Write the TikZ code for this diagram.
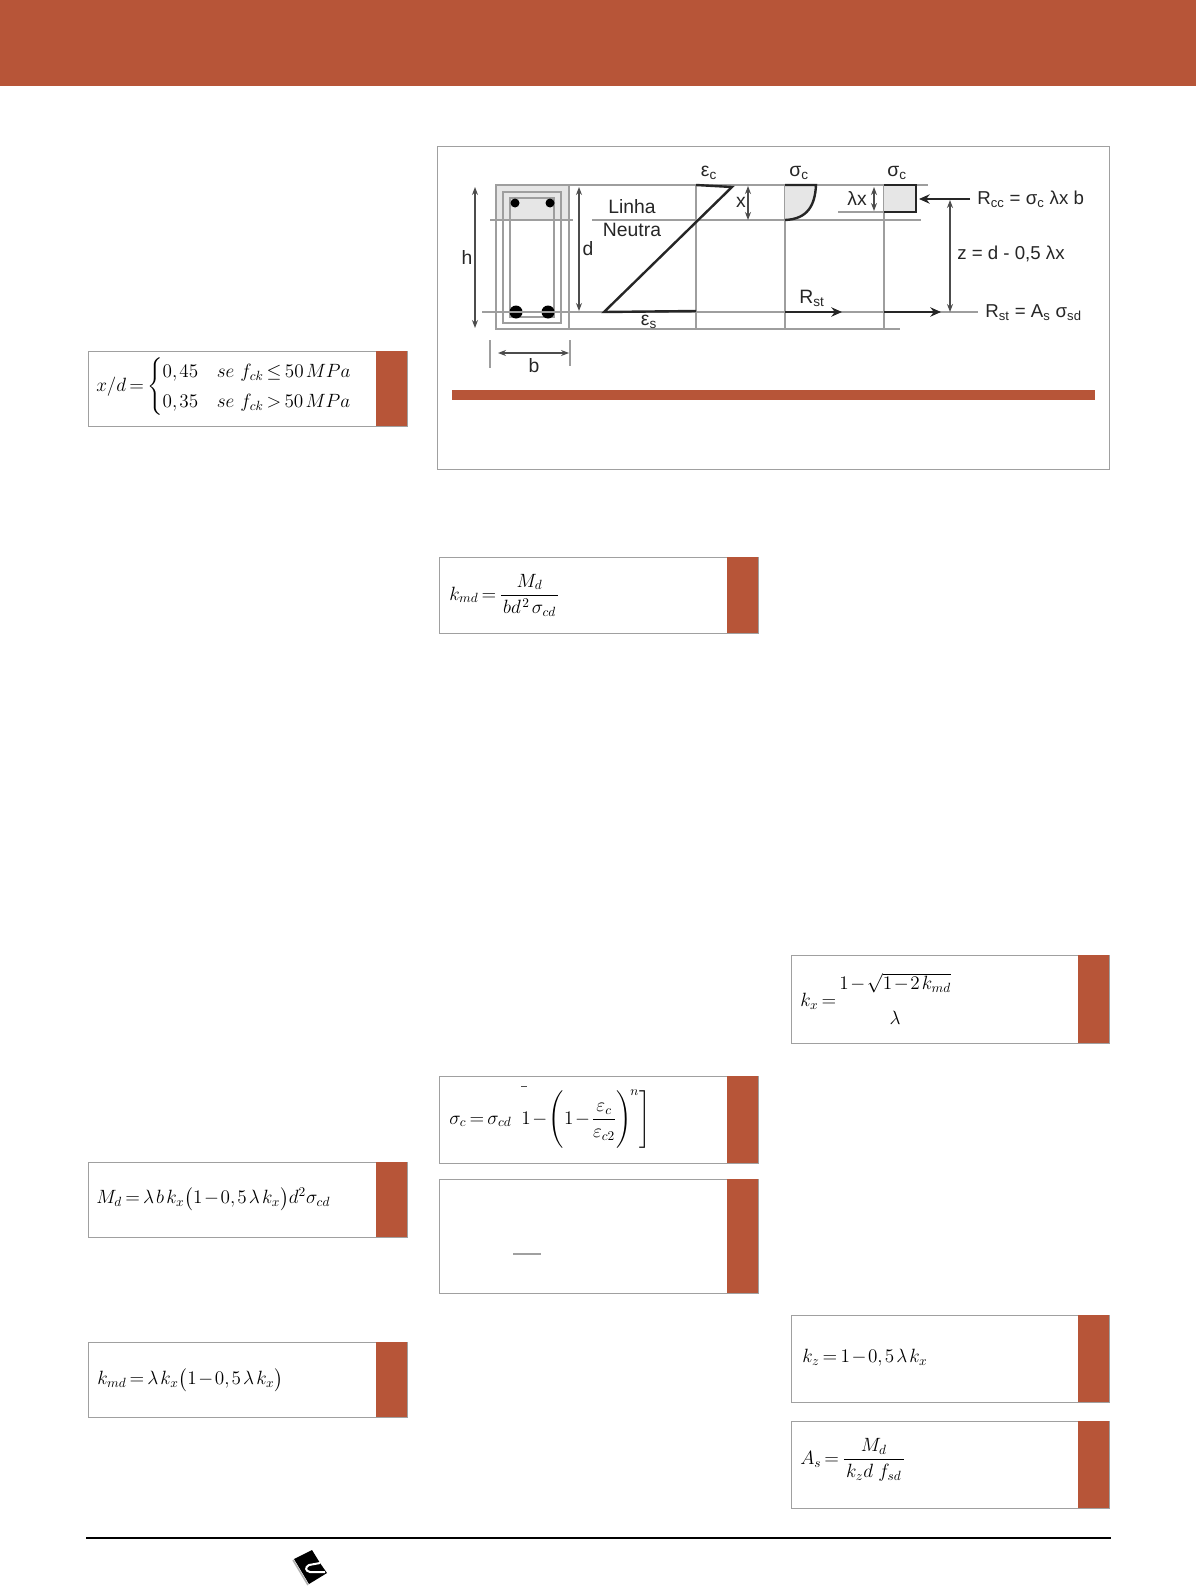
\documentclass[tikz,border=0pt]{standalone}
\usepackage{amsmath}
\usepackage[no-math]{fontspec}
\usetikzlibrary{arrows.meta}
\newfontfamily\diagfont{Liberation Sans}
\definecolor{tabred}{HTML}{B75538}
\definecolor{boxgray}{HTML}{A0A0A0}
\definecolor{fillgray}{HTML}{E6E6E6}
\newcommand{\tightmath}{\medmuskip=1.5mu\relax\thickmuskip=3mu\relax\thinmuskip=2mu\relax}
\tikzset{
    eqtext/.style={anchor=west,inner sep=0pt,font=\fontsize{14}{17}\selectfont\tightmath},
    lbl/.style={inner sep=0pt,font=\diagfont\fontsize{14.5}{17}\selectfont,text=black!85},
    lblr/.style={lbl,anchor=west,font=\diagfont\fontsize{14}{17}\selectfont},
    thin line/.style={draw=black!38,line width=0.9pt},
    heavy line/.style={draw=black!85,line width=1.8pt},
    dim line/.style={draw=black!70,line width=0.8pt,{Stealth[length=6pt,width=4.5pt]}-{Stealth[length=6pt,width=4.5pt]}},
    force line/.style={draw=black!85,line width=1.8pt,-{Stealth[length=8pt,width=7pt]}}
}
\begin{document}
\begin{tikzpicture}[x=0.75pt,y=-0.75pt]
    \useasboundingbox (0,0) rectangle (1196,1595);

    % Top band
    \fill[tabred] (0,0) rectangle (1196,86);

    % Figure frame and red bar
    \draw[boxgray,line width=0.7pt] (437,146) rectangle (1109,469);
    \fill[tabred] (452,390) rectangle (1095,400);

    % Formula boxes
    \foreach \xa/\xb/\ya/\yb in {88/376/351/426, 439/727/557/633, 791/1078/955/1043,
        439/727/1076/1163, 439/727/1179/1293, 88/376/1162/1237, 88/376/1342/1417,
        791/1078/1315/1402, 791/1078/1421/1508}{
        \draw[boxgray,line width=0.7pt] (\xa,\ya) rectangle (\xb+31,\yb);
        \fill[tabred] (\xb,\ya) rectangle (\xb+31,\yb);
    }

    % Formulas
    \node[eqtext] (eqlimit) at (96,387) {$x/d=\begin{cases}0,45\quad se\ f_{ck}\leq 50\,MPa\\[2pt] 0,35\quad se\ f_{ck}>50\,MPa\end{cases}$};
    \node[eqtext] (eqkmd) at (449,595) {$k_{md}=\dfrac{\;M_d\;}{\,bd^{\,2}\,\sigma_{cd}\,}$};
    \node[eqtext] (eqkx) at (800,1002) {$k_x=\begin{array}{@{}c@{}}1-\sqrt{1-2\,k_{md}}\\[9pt]\lambda\end{array}$};
    \node[eqtext] (eqsigma) at (449,1119) {$\sigma_c=\sigma_{cd}\ \left.1-\left(\rule[-18pt]{0pt}{43pt}1-\dfrac{\varepsilon_c}{\varepsilon_{c2}}\right)^{\!n}\right]$};
    \node[eqtext] (eqmd) at (96,1199) {$M_d=\lambda\,b\,k_x\bigl(1-0,5\,\lambda\,k_x\bigr)d^{2}\sigma_{cd}$};
    \node[eqtext] (eqkmdx) at (97,1380) {$k_{md}=\lambda\,k_x\bigl(1-0,5\,\lambda\,k_x\bigr)$};
    \node[eqtext] (eqkz) at (802,1358) {$k_z=1-0,5\,\lambda\,k_x$};
    \node[eqtext] (eqas) at (800,1460) {$A_s=\dfrac{M_d}{\,k_z d\;\,f_{sd}\,}$};
    \draw[black!70,line width=0.7pt] (521,1086) -- (527,1086);
    \draw[boxgray,line width=0.9pt] (513,1254) -- (541,1254);

    % Concrete section
    \fill[fillgray] (496,185) rectangle (569,220);
    \draw[thin line] (496,185) rectangle (569,329);
    \draw[thin line] (503,192) rectangle (561,323);
    \draw[thin line] (510,198) rectangle (554,317);
    \foreach \xa in {515,550}{\fill[black] (\xa,203) circle (4.5);}
    \foreach \xa in {516,548}{\fill[black] (\xa,312) circle (6.5);}

    % Horizontal reference lines
    \draw[thin line] (496,185) -- (928,185);
    \draw[thin line] (490,220) -- (573,220);
    \draw[thin line] (592,220) -- (921,220);
    \draw[thin line] (482,312) -- (978,312);
    \draw[thin line] (496,329) -- (900,329);

    % Vertical reference lines
    \foreach \xa in {696,785,884}{\draw[thin line] (\xa,185) -- (\xa,329);}

    % Strain diagram
    \draw[heavy line] (696,185) -- (732,187) -- (604,312) -- (696,311);

    % Stress diagrams
    \fill[fillgray] (785,185) -- (816,185) .. controls (815,205) and (808,219) .. (785,220) -- cycle;
    \draw[heavy line] (785,185) -- (816,185) .. controls (815,205) and (808,219) .. (785,220);
    \fill[fillgray] (884,185) rectangle (916,212);
    \draw[heavy line] (884,185) -- (916,185) -- (916,212) -- (884,212);
    \draw[thin line] (838,212) -- (884,212);

    % Dimensions
    \draw[dim line] (475,187) -- (475,328);
    \draw[dim line] (579,187) -- (579,311);
    \draw[dim line] (748,186) -- (748,220);
    \draw[dim line] (874,187) -- (874,211);
    \draw[dim line] (950,200) -- (950,312);
    \draw[dim line] (498,353) -- (569,353);
    \draw[thin line] (490,340) -- (490,368);
    \draw[thin line] (570,340) -- (570,366);

    % Forces
    \draw[force line] (970,199) -- (919,199);
    \draw[force line] (785,312) -- (842,312);
    \draw[force line] (884,312) -- (941,312);

    % Labels
    \node[lbl] (lh) at (467,257) {h};
    \node[lbl] (ld) at (588,249) {d};
    \node[lbl] (lb) at (534,366) {b};
    \node[lbl] (lx) at (741,202) {x};
    \node[lbl] (llx) at (857,198) {λx};
    \node[lbl] (llinha) at (632,207) {Linha};
    \node[lbl] (lneutra) at (632,230) {Neutra};
    \node[lbl] (lec) at (709,173) {ε\textsubscript{c}};
    \node[lbl] (lsc) at (799,173) {σ\textsubscript{c}};
    \node[lbl] (lscb) at (897,173) {σ\textsubscript{c}};
    \node[lbl] (les) at (649,322) {ε\textsubscript{s}};
    \node[lbl] (lrst) at (812,298) {R\textsubscript{st}};
    \node[lblr] (lrcc) at (977,199) {R\textsubscript{cc} = σ\textsubscript{c} λx b};
    \node[lblr] (lz) at (957,254) {z = d - 0,5 λx};
    \node[lblr] (lrsd) at (985,313) {R\textsubscript{st} = A\textsubscript{s} σ\textsubscript{sd}};

    % Footer rule and logo
    \draw[black,line width=0.9pt] (86,1538) -- (1111,1538);
    \fill[black] (294,1559) -- (312,1550) -- (320,1563) -- (327,1573) -- (309,1584) -- cycle;
    \draw[black!30,line width=1.2pt] (293,1560) -- (308,1585);
    \draw[white,line width=1.5pt] (320,1563) -- (309,1565) .. controls (305,1567) and (305,1571) .. (310,1572) -- (325,1572);
\end{tikzpicture}
\end{document}
